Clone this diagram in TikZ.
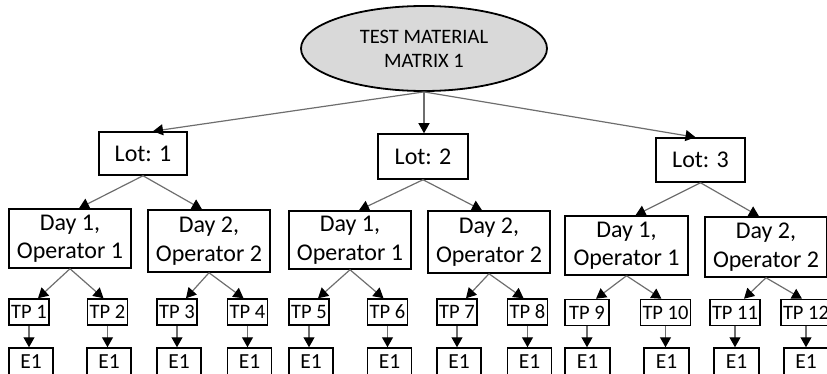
\documentclass[tikz,border=0pt]{standalone}
\usepackage{fontspec}
\setmainfont{Carlito}
\usetikzlibrary{arrows.meta,shapes.geometric}
\definecolor{linegray}{HTML}{6E6E6E}
\definecolor{rootfill}{HTML}{D9D9D9}
\tikzset{
  box/.style={draw=black, line width=1.5pt, inner sep=0pt, align=center},
  bigbox/.style={box, font=\fontsize{24}{28.5}\selectfont},
  smallbox/.style={box, font=\fontsize{20.5}{24}\selectfont, minimum height=26pt},
  ebox/.style={box, font=\fontsize{21.5}{24}\selectfont, minimum height=28pt, minimum width=44pt},
  conn/.style={draw=linegray, line width=1.2pt, -{Triangle[width=11pt,length=10pt,color=black]}}
}
\begin{document}
\begin{tikzpicture}[x=1pt,y=-1pt]
\useasboundingbox (0,0) rectangle (827,374);
\clip (0,0) rectangle (827,374);
% root
\node[ellipse, draw=black, line width=1.8pt, fill=rootfill, minimum width=246pt, minimum height=85pt, inner sep=0pt, align=center, font=\fontsize{20.5}{24}\selectfont] (root) at (424,48.5) {TEST MATERIAL\\MATRIX 1};
% lots
\node[bigbox, minimum width=88pt, minimum height=43pt] (L1) at (143,153.5) {Lot: 1};
\node[bigbox, minimum width=90pt, minimum height=45pt] (L2) at (423,156.5) {Lot: 2};
\node[bigbox, minimum width=89pt, minimum height=44pt] (L3) at (700.5,160) {Lot: 3};
% days
\node[bigbox, minimum width=122pt, minimum height=59pt] (D11) at (70,238.5) {Day 1,\\Operator 1};
\node[bigbox, minimum width=122pt, minimum height=62pt] (D12) at (209,241) {Day 2,\\Operator 2};
\node[bigbox, minimum width=122pt, minimum height=58pt] (D21) at (350,240) {Day 1,\\Operator 1};
\node[bigbox, minimum width=122pt, minimum height=62pt] (D22) at (489,242) {Day 2,\\Operator 2};
\node[bigbox, minimum width=123pt, minimum height=59pt] (D31) at (626.5,245.5) {Day 1,\\Operator 1};
\node[bigbox, minimum width=122pt, minimum height=60pt] (D32) at (766,247) {Day 2,\\Operator 2};
% TPs
\node[smallbox, minimum width=40pt] (T1) at (29,312) {TP 1};
\node[smallbox, minimum width=40pt] (T2) at (107.5,312) {TP 2};
\node[smallbox, minimum width=40pt] (T3) at (177,312) {TP 3};
\node[smallbox, minimum width=40pt] (T4) at (247.5,312) {TP 4};
\node[smallbox, minimum width=40pt] (T5) at (309,312) {TP 5};
\node[smallbox, minimum width=40pt] (T6) at (387.5,312) {TP 6};
\node[smallbox, minimum width=40pt] (T7) at (457,312) {TP 7};
\node[smallbox, minimum width=40pt] (T8) at (527.5,312) {TP 8};
\node[smallbox, minimum width=44pt] (T9) at (587,312.5) {TP 9};
\node[smallbox, minimum width=50pt] (T10) at (665.5,312.5) {TP 10};
\node[smallbox, minimum width=50pt] (T11) at (735,312.5) {TP 11};
\node[smallbox, minimum width=50pt] (T12) at (806,312.5) {TP 12};
% E1s
\node[ebox] (E1) at (31,362) {E1};
\node[ebox] (E2) at (109,362) {E1};
\node[ebox] (E3) at (179,362) {E1};
\node[ebox] (E4) at (249.5,362) {E1};
\node[ebox] (E5) at (311,362) {E1};
\node[ebox] (E6) at (389.5,362) {E1};
\node[ebox] (E7) at (459,362) {E1};
\node[ebox] (E8) at (529.5,362) {E1};
\node[ebox, minimum width=45pt] (E9) at (587.5,362) {E1};
\node[ebox, minimum width=45pt] (E10) at (666.5,362) {E1};
\node[ebox, minimum width=45pt] (E11) at (736.5,362) {E1};
\node[ebox, minimum width=44pt] (E12) at (806,362) {E1};
% root to lots
\draw[conn] (root.south) -- ([xshift=10pt]L1.north);
\draw[conn] (root.south) -- ([xshift=1pt]L2.north);
\draw[conn] (root.south) -- ([xshift=-5pt]L3.north);
% lots to days
\foreach \l/\a/\b in {L1/D11/D12, L2/D21/D22, L3/D31/D32}{
  \draw[conn] (\l.south) -- ([xshift=9pt]\a.north);
  \draw[conn] (\l.south) -- ([xshift=-7pt]\b.north);
}
% days to TPs
\foreach \d/\a/\b in {D11/T1/T2, D12/T3/T4, D21/T5/T6, D22/T7/T8, D31/T9/T10, D32/T11/T12}{
  \draw[conn] (\d.south) -- ([xshift=9pt]\a.north);
  \draw[conn] (\d.south) -- ([xshift=-4pt]\b.north);
}
% TPs to E1
\foreach \t/\e in {T1/E1, T2/E2, T3/E3, T4/E4, T5/E5, T6/E6, T7/E7, T8/E8, T9/E9, T10/E10, T11/E11, T12/E12}{
  \draw[conn] (\t.south) -- (\t.south |- \e.north);
}
\end{tikzpicture}
\end{document}
